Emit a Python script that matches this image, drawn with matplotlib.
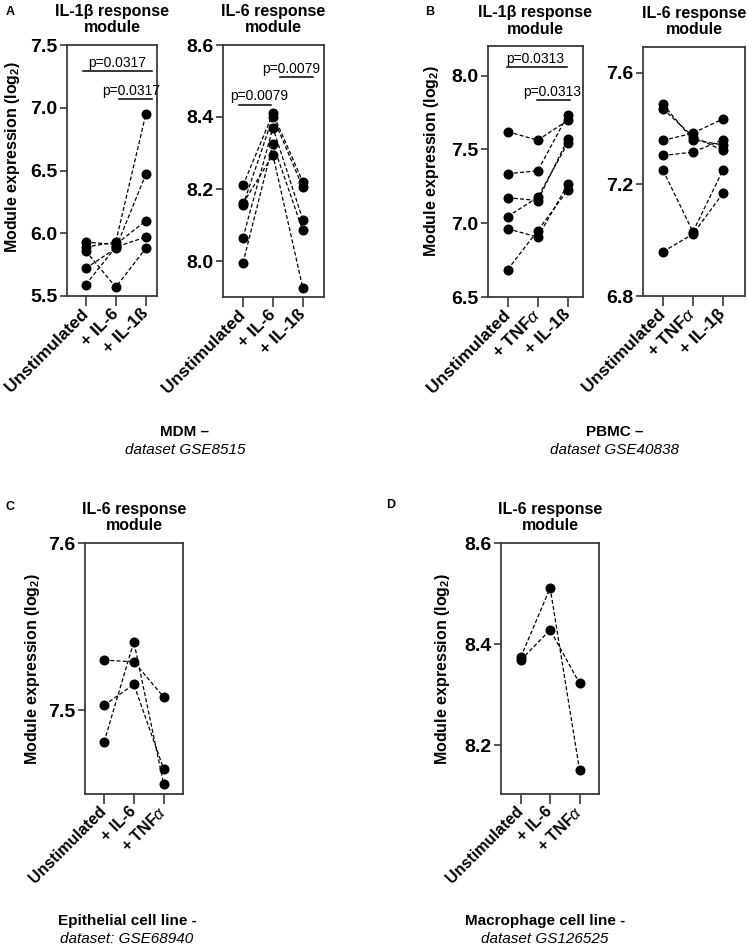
import matplotlib.pyplot as plt
import matplotlib.transforms as mtransforms

plt.rcParams['font.family'] = ['Liberation Sans', 'DejaVu Sans']
plt.rcParams['mathtext.fontset'] = 'custom'
plt.rcParams['mathtext.rm'] = 'Liberation Sans'
plt.rcParams['mathtext.it'] = 'Liberation Sans:italic'
plt.rcParams['mathtext.bf'] = 'Liberation Sans:bold'

# ---- data (one list per condition, donors in the same order) ----
# A: MDM, GSE8515
mdm_ticks = ['Unstimulated', '+ IL-6', '+ IL-1ß']
mdm_il1b_unstim = [5.93, 5.89, 5.86, 5.72, 5.59]
mdm_il1b_il6 = [5.91, 5.93, 5.57, 5.88, 5.89]
mdm_il1b_il1b = [6.10, 6.95, 5.88, 6.47, 5.97]

mdm_il6_unstim = [8.21, 8.155, 8.065, 7.995, 8.16]
mdm_il6_il6 = [8.41, 8.40, 8.37, 8.325, 8.295]
mdm_il6_il1b = [8.22, 8.205, 8.115, 8.085, 7.925]

# B: PBMC, GSE40838
pbmc_ticks_1 = ['Unstimulated', '+ TNF$\\alpha$', '+ IL-1ß']
pbmc_ticks_2 = ['Unstimulated', '+ TNF$\\alpha$', '+ IL-1β']
pbmc_il1b_unstim = [7.62, 7.335, 7.173, 7.045, 6.962, 6.685]
pbmc_il1b_tnf = [7.562, 7.355, 7.153, 7.175, 6.906, 6.95]
pbmc_il1b_il1b = [7.697, 7.735, 7.571, 7.544, 7.263, 7.225]

pbmc_il6_unstim = [7.487, 7.471, 7.358, 7.304, 7.251, 6.959]
pbmc_il6_tnf = [7.36, 7.372, 7.384, 7.316, 7.030, 7.022]
pbmc_il6_il1b = [7.342, 7.322, 7.435, 7.36, 7.251, 7.168]

# C: epithelial cell line, GSE68940
epi_ticks = ['Unstimulated', '+ IL-6', '+ TNF$\\alpha$']
epi_unstim = [7.530, 7.503, 7.481]
epi_il6 = [7.529, 7.5155, 7.541]
epi_tnf = [7.508, 7.465, 7.456]

# D: macrophage cell line, GS126525
mac_ticks = ['Unstimulated', '+ IL-6', '+ TNF$\\alpha$']
mac_unstim = [8.3735, 8.368]
mac_il6 = [8.511, 8.428]
mac_tnf = [8.150, 8.322]

W, H = 747, 952
fig = plt.figure(figsize=(W / 100, H / 100), dpi=100)

SPINE = '#3a3a3a'


def add_panel(box, series, ticks, ylim, yticks, xlim, title, ylabel_pos=None,
              tick_size=12.5, brackets=()):
    left, top, right, bottom = box
    ax = fig.add_axes([left / W, 1 - bottom / H, (right - left) / W, (bottom - top) / H])
    for vals in zip(*series):
        ax.plot(range(len(vals)), vals, color='black', lw=0.9, ls=(0, (3.2, 1.8)),
                marker='o', ms=6.2, mfc='black', mec='black', zorder=3)
    ax.set_xlim(*xlim)
    ax.set_ylim(*ylim)
    ax.set_yticks(yticks)
    ax.set_yticklabels([f'{t:.1f}' for t in yticks], fontsize=14, fontweight='bold')
    ax.set_xticks(range(len(ticks)))
    ax.set_xticklabels(ticks, rotation=45, ha='right', va='center', rotation_mode='anchor',
                       fontsize=tick_size, fontweight='bold')
    for s in ax.spines.values():
        s.set_color(SPINE)
        s.set_linewidth(1.3)
    ax.tick_params(axis='x', length=7, width=1.2, color=SPINE, pad=4)
    ax.tick_params(axis='y', length=5, width=1.2, color=SPINE, pad=2)
    ax.set_title(title, fontsize=11.5, fontweight='bold', pad=9, linespacing=1.15)
    if ylabel_pos is not None:
        ax.set_ylabel('Module expression (log$_\\mathbf{2}$)', fontsize=11.5, fontweight='bold')
        trans = mtransforms.blended_transform_factory(fig.transFigure, ax.transAxes)
        ax.yaxis.set_label_coords(ylabel_pos[0] / W, ylabel_pos[1], transform=trans)
    for x1, x2, yb, tx, ty, label in brackets:
        ax.plot([x1, x2], [yb, yb], color='black', lw=1.1, clip_on=False)
        ax.text(tx, ty, label, ha='center', va='bottom', fontsize=10)
    return ax


title_il1b = 'IL-1β response\nmodule'
title_il6 = 'IL-6 response\nmodule'

add_panel((67, 45, 157, 296), [mdm_il1b_unstim, mdm_il1b_il6, mdm_il1b_il1b], mdm_ticks,
          (5.5, 7.5), [5.5, 6.0, 6.5, 7.0, 7.5], (-0.62, 2.37), title_il1b,
          ylabel_pos=(22, 0.553),
          brackets=[(-0.1, 2.2, 7.29, 1.05, 7.30, 'p=0.0317'),
                    (1.12, 2.2, 7.07, 1.52, 7.08, 'p=0.0317')])
add_panel((223, 45, 324, 297), [mdm_il6_unstim, mdm_il6_il6, mdm_il6_il1b], mdm_ticks,
          (7.9, 8.6), [8.0, 8.2, 8.4, 8.6], (-0.67, 2.71), title_il6,
          brackets=[(-0.12, 0.93, 8.434, 0.55, 8.438, 'p=0.0079'),
                    (1.23, 2.33, 8.51, 1.6, 8.514, 'p=0.0079')])
add_panel((488, 46, 583, 297), [pbmc_il1b_unstim, pbmc_il1b_tnf, pbmc_il1b_il1b], pbmc_ticks_1,
          (6.5, 8.2), [6.5, 7.0, 7.5, 8.0], (-0.65, 2.5), title_il1b,
          ylabel_pos=(441, 0.54),
          brackets=[(-0.03, 1.97, 8.056, 0.92, 8.062, 'p=0.0313'),
                    (0.97, 2.08, 7.836, 1.47, 7.842, 'p=0.0313')])
add_panel((643, 47, 745, 296), [pbmc_il6_unstim, pbmc_il6_tnf, pbmc_il6_il1b], pbmc_ticks_2,
          (6.8, 7.693), [6.8, 7.2, 7.6], (-0.67, 2.74), title_il6)
add_panel((85, 543, 183, 794), [epi_unstim, epi_il6, epi_tnf], epi_ticks,
          (7.45, 7.6), [7.5, 7.6], (-0.64, 2.65), title_il6, ylabel_pos=(42, 0.5),
          tick_size=11.5)
add_panel((501, 543, 599, 794), [mac_unstim, mac_il6, mac_tnf], mac_ticks,
          (8.103, 8.6), [8.2, 8.4, 8.6], (-0.67, 2.66), title_il6, ylabel_pos=(452, 0.5),
          tick_size=11.5)

# panel letters
for x, y, letter in [(6, 12, 'A'), (425, 12, 'B'), (6, 507, 'C'), (386, 505, 'D')]:
    fig.text(x / W, 1 - y / H, letter, fontsize=9, fontweight='bold', va='center')

# dataset captions
captions = [
    (185, 'MDM –', 'dataset GSE8515', 432),
    (615, 'PBMC –', 'dataset GSE40838', 432),
    (127, 'Epithelial cell line -', 'dataset: GSE68940', 921),
    (545, 'Macrophage cell line -', 'dataset GS126525', 921),
]
for x, bold_txt, ital_txt, y in captions:
    fig.text(x / W, 1 - y / H, bold_txt, ha='center', va='center', fontsize=11,
             fontweight='bold')
    fig.text(x / W, 1 - (y + 18) / H, ital_txt, ha='center', va='center', fontsize=11,
             style='italic')

fig.savefig('out.png', dpi=100)
